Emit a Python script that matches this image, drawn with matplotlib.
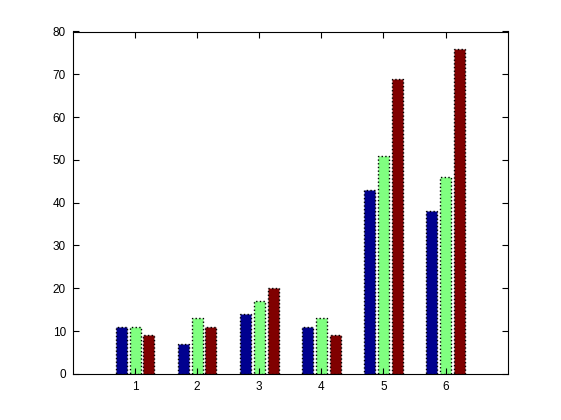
import matplotlib
matplotlib.use("Agg")
import matplotlib.pyplot as plt
import numpy as np

groups = [1, 2, 3, 4, 5, 6]
series_a = [11, 7, 14, 11, 43, 38]
series_b = [11, 13, 17, 13, 51, 46]
series_c = [9, 11, 20, 9, 69, 76]
colors = ["#00008f", "#80ff80", "#800000"]

plt.rcParams['font.family'] = ['Liberation Sans', 'DejaVu Sans']
fig = plt.figure(figsize=(5.61, 4.2), dpi=100)
ax = fig.add_axes([0.13, 0.11, 0.775, 0.815])

x = np.array(groups, dtype=float)
spacing = 0.222
width = 0.178
for i, (vals, c) in enumerate(zip([series_a, series_b, series_c], colors)):
    ax.bar(x + (i - 1) * spacing, vals, width=width, color=c,
           edgecolor='black', linestyle=':', linewidth=1.0)

ax.set_xlim(0, 7)
ax.set_ylim(0, 80)
ax.set_xticks(groups)
ax.set_yticks(np.arange(0, 81, 10))
ax.tick_params(direction='in', top=True, right=True, labelsize=8.5, length=4, width=0.8, pad=5)
for s in ax.spines.values():
    s.set_linewidth(0.8)

fig.savefig("out.png", dpi=100)
